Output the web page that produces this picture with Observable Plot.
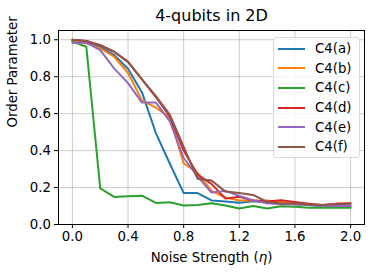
<!DOCTYPE html>
<html>
<head>
<meta charset="utf-8">
<script src="https://cdn.jsdelivr.net/npm/d3@7"></script>
<script src="https://cdn.jsdelivr.net/npm/@observablehq/plot@0.6"></script>
<style>
  body { margin: 0; background: #fff; font-family: "DejaVu Sans", sans-serif; }
  #wrap { position: relative; width: 374px; height: 276px; }
  #legend { position: absolute; left: 273px; top: 37px; width: 87px; height: 121px;
    border: 1px solid #d9d9d9; border-radius: 3px; background: rgba(255,255,255,0.8);
    box-sizing: border-box; padding-top: 1px; }
  .row { display: flex; align-items: center; height: 19.6px; font-size: 13.3px; color: #000; }
  .sw { width: 27px; height: 2px; margin-left: 4px; margin-right: 10px; }
</style>
</head>
<body>
<div id="wrap"><div id="legend"></div></div>
<script>
const noise = [0.0,0.1,0.2,0.3,0.4,0.5,0.6,0.7,0.8,0.9,1.0,1.1,1.2,1.3,1.4,1.5,1.6,1.7,1.8,1.9,2.0];
const seriesNames = ["C4(a)","C4(b)","C4(c)","C4(d)","C4(e)","C4(f)"];
const seriesColors = ["#1f77b4","#ff7f0e","#2ca02c","#d62728","#9467bd","#8c564b"];
const c4a = [0.995,0.986,0.962,0.917,0.843,0.715,0.495,0.330,0.170,0.170,0.130,0.125,0.118,0.126,0.120,0.115,0.110,0.105,0.100,0.100,0.100];
const c4b = [0.996,0.980,0.953,0.908,0.820,0.672,0.632,0.580,0.330,0.280,0.182,0.146,0.130,0.130,0.130,0.122,0.113,0.108,0.105,0.110,0.115];
const c4c = [0.990,0.962,0.195,0.149,0.153,0.156,0.117,0.120,0.103,0.106,0.115,0.103,0.087,0.100,0.087,0.099,0.096,0.090,0.092,0.090,0.090];
const c4d = [1.000,0.993,0.970,0.935,0.880,0.785,0.690,0.585,0.400,0.270,0.220,0.140,0.150,0.130,0.125,0.131,0.122,0.113,0.105,0.113,0.113];
const c4e = [0.982,0.985,0.944,0.845,0.765,0.660,0.660,0.560,0.360,0.260,0.173,0.182,0.155,0.130,0.115,0.110,0.110,0.105,0.100,0.100,0.100];
const c4f = [1.000,0.993,0.971,0.935,0.880,0.785,0.695,0.595,0.420,0.247,0.238,0.178,0.170,0.160,0.122,0.113,0.113,0.108,0.105,0.110,0.113];
const xTicks = [0.0,0.4,0.8,1.2,1.6,2.0];
const yTicks = [0.0,0.2,0.4,0.6,0.8,1.0];
const titleText = "4-qubits in 2D";
const xLabel = "Noise Strength (η)";
const yLabel = "Order Parameter";

const allSeries = [c4a,c4b,c4c,c4d,c4e,c4f];
const rows = [];
allSeries.forEach((vals, i) => vals.forEach((v, j) => rows.push({x: noise[j], y: v, s: seriesNames[i]})));

const font = "DejaVu Sans";
const plot = Plot.plot({
  width: 374, height: 276,
  marginLeft: 58, marginRight: 10, marginTop: 30, marginBottom: 52,
  style: {fontFamily: font, fontSize: "13.3px", background: "white", color: "black"},
  x: {domain: [-0.1, 2.1]},
  y: {domain: [0, 1.05]},
  color: {domain: seriesNames, range: seriesColors},
  marks: [
    Plot.gridX(xTicks, {stroke: "#b0b0b0", strokeOpacity: 0.65, strokeWidth: 1}),
    Plot.gridY(yTicks, {stroke: "#b0b0b0", strokeOpacity: 0.65, strokeWidth: 1}),
    Plot.line(rows, {x: "x", y: "y", z: "s", stroke: "s", strokeWidth: 2, strokeLinejoin: "round"}),
    Plot.frame({stroke: "black", strokeWidth: 1}),
    Plot.axisX(xTicks, {tickSize: 4, tickPadding: 3, tickFormat: d3.format(".1f"), label: null, fontSize: 13.3}),
    Plot.axisY(yTicks, {tickSize: 4, tickPadding: 3.5, tickFormat: d3.format(".1f"), label: null, fontSize: 13.3}),
    Plot.text([xLabel], {frameAnchor: "bottom", dy: 33, fontSize: 13.3, lineAnchor: "middle", className: "xlab"}),
    Plot.text([yLabel], {frameAnchor: "left", dx: -46, rotate: -90, fontSize: 13.3, lineAnchor: "middle"}),
    Plot.text([titleText], {frameAnchor: "top", dy: -15, fontSize: 16, lineAnchor: "middle"})
  ]
});
document.getElementById("wrap").prepend(plot);
plot.style.position = "absolute"; plot.style.left = "0"; plot.style.top = "0";

// italic eta like matplotlib mathtext
d3.select(plot).selectAll("text").each(function() {
  const t = d3.select(this);
  if (t.text() === xLabel) {
    const parts = xLabel.split("η");
    t.text(null);
    t.append("tspan").text(parts[0]);
    t.append("tspan").attr("font-style", "italic").text("η");
    t.append("tspan").text(parts[1]);
  }
});

const legend = document.getElementById("legend");
seriesNames.forEach((n, i) => {
  const r = document.createElement("div"); r.className = "row";
  const sw = document.createElement("div"); sw.className = "sw"; sw.style.background = seriesColors[i];
  const t = document.createElement("span"); t.textContent = n;
  r.append(sw, t); legend.append(r);
});
</script>
</body>
</html>
